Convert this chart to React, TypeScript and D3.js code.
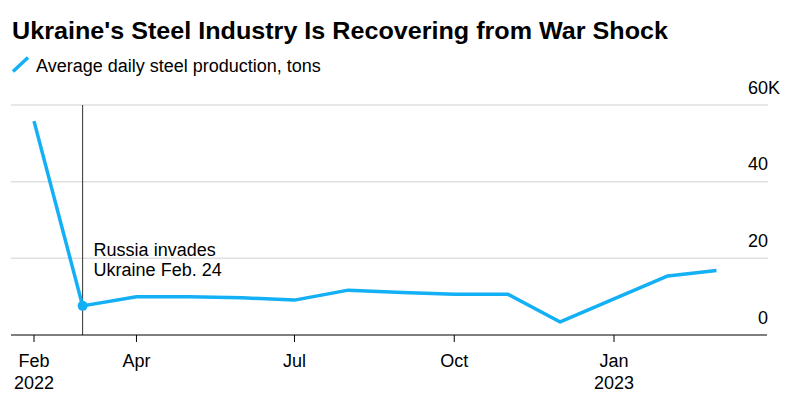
import React, { useEffect } from "react";
import * as d3 from "d3";

const months = [
  "2022-02-01", "2022-03-01", "2022-04-01", "2022-05-01", "2022-06-01", "2022-07-01", "2022-08-01",
  "2022-09-01", "2022-10-01", "2022-11-01", "2022-12-01", "2023-01-01", "2023-02-01", "2023-03-01",
];
const production = [55800, 7600, 10000, 10000, 9700, 9100, 11700, 11100, 10600, 10600, 3400, 9400, 15400, 16800];
const yTicks = [0, 20000, 40000, 60000];
const yTickLabels = ["0", "20", "40", "60"];
const yTickSuffix = ["", "", "", "K"];
const xTickDates = ["2022-02-01", "2022-04-01", "2022-07-01", "2022-10-01", "2023-01-01"];
const xTickLabels = ["Feb", "Apr", "Jul", "Oct", "Jan"];
const xTickYears = ["2022", "", "", "", "2023"];
const annotationDate = "2022-03-01";
const annotationLines = ["Russia invades", "Ukraine Feb. 24"];

const parse = (s: string) => {
  const [y, m, d] = s.split("-").map(Number);
  return new Date(y, m - 1, d);
};

const W = 802;
const H = 404;
const FONT = "'Liberation Sans', Arial, Helvetica, sans-serif";
const BLUE = "#13b0f5";

export default function App() {
  useEffect(() => {
    document.body.style.margin = "0";
  }, []);

  const x = d3.scaleTime().domain([parse("2022-02-01"), parse("2023-01-01")]).range([34, 614]);
  const y = d3.scaleLinear().domain([0, 60000]).range([335, 105]);
  const left = 11;
  const right = 768;

  const pts = months.map((m, i) => [x(parse(m)), y(production[i])] as [number, number]);
  const line = d3.line()(pts) || "";
  const ax = x(parse(annotationDate));
  const annIdx = months.indexOf(annotationDate);

  return (
    <svg width={W} height={H} style={{ display: "block", background: "#fff" }} fontFamily={FONT}>
      <text x={12} y={39} fontSize={24} fontWeight="bold" fill="#000" textLength={656} lengthAdjust="spacingAndGlyphs">
        Ukraine's Steel Industry Is Recovering from War Shock
      </text>
      <line x1={13} y1={71.5} x2={28} y2={57.5} stroke={BLUE} strokeWidth={3.5} />
      <text x={36} y={72} fontSize={18} fill="#000">
        Average daily steel production, tons
      </text>

      {yTicks.map((t, i) => (
        <g key={t}>
          {t !== 0 && <line x1={left} x2={right} y1={y(t)} y2={y(t)} stroke="#e0e0e0" strokeWidth={1.5} />}
          <text x={right} y={y(t) - 11.5} fontSize={18} textAnchor="end" fill="#000">
            {yTickLabels[i]}
          </text>
          {yTickSuffix[i] && (
            <text x={right} y={y(t) - 11.5} fontSize={18} textAnchor="start" fill="#000">
              {yTickSuffix[i]}
            </text>
          )}
        </g>
      ))}

      <line x1={ax} x2={ax} y1={y(60000)} y2={y(0)} stroke="#333" strokeWidth={1} />
      {annotationLines.map((l, i) => (
        <text key={l} x={ax + 11} y={256 + i * 20} fontSize={18} fill="#000">
          {l}
        </text>
      ))}

      <line x1={left} x2={right - 1} y1={y(0)} y2={y(0)} stroke="#000" strokeWidth={1} />
      {xTickDates.map((d, i) => {
        const xx = x(parse(d));
        return (
          <g key={d}>
            <line x1={xx} x2={xx} y1={y(0)} y2={y(0) + 7} stroke="#000" strokeWidth={1} />
            <text x={xx} y={367} fontSize={18} textAnchor="middle" fill="#000">
              {xTickLabels[i]}
            </text>
            {xTickYears[i] && (
              <text x={xx} y={389} fontSize={18} textAnchor="middle" fill="#000">
                {xTickYears[i]}
              </text>
            )}
          </g>
        );
      })}

      <path d={line} fill="none" stroke={BLUE} strokeWidth={3.5} strokeLinejoin="round" strokeLinecap="butt" />
      <circle cx={pts[annIdx][0]} cy={pts[annIdx][1]} r={5} fill={BLUE} />
    </svg>
  );
}
